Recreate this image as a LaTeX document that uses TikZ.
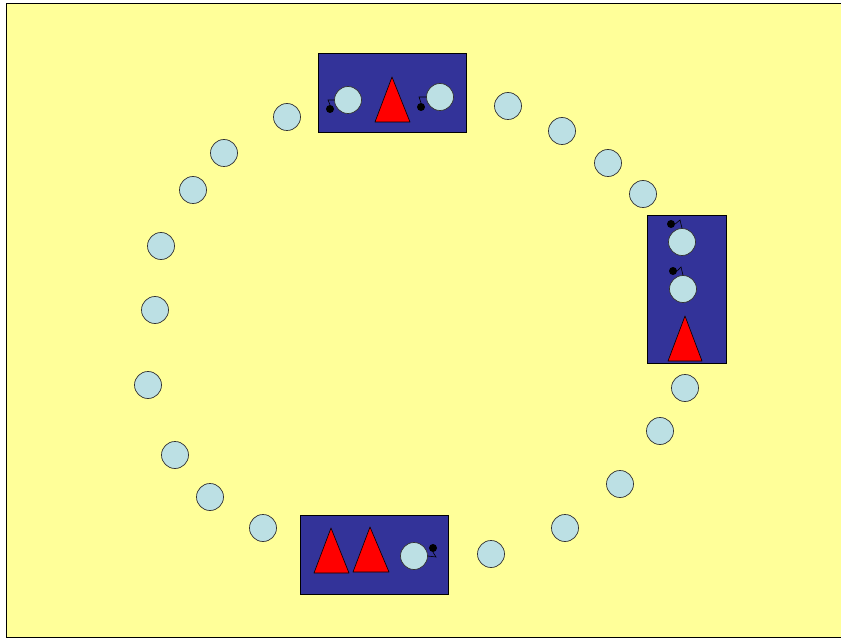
\documentclass[tikz,border=0pt]{standalone}
\begin{document}
\begin{tikzpicture}[x=1pt,y=-1pt,
  ball/.style={circle,draw=black!80,fill=ballc,minimum size=27pt,inner sep=0pt,line width=0.7pt},
  boxc/.style={draw=black,fill=boxblue,line width=0.6pt},
  tri/.style={draw=black,fill=red,line width=0.6pt,line join=round},
  dotc/.style={circle,fill=black,minimum size=8pt,inner sep=0pt},
  stem/.style={draw=black,line width=0.6pt}]
\definecolor{bg}{HTML}{FFFF99}
\definecolor{boxblue}{HTML}{333399}
\definecolor{ballc}{HTML}{BCE0E4}
\useasboundingbox (0,0) rectangle (841,639);
\fill[white] (0,0) rectangle (841,639);
\draw[fill=bg,line width=0.8pt] (850,3) -- (6,3) -- (6,637) -- (850,637);
% outer ring of balls
\foreach \x/\y [count=\i] in {287/117,224/153,193/190,161/246,155/310,148/385,175/455,210/497,263/528,
  508/106,562/131,608/163,643/194,685/388,660/431,620/484,565/528,491/554}
  \node[ball] (r\i) at (\x,\y) {};
% top box
\path[boxc] (318,53) rectangle (466,132);
\node[ball] (t1) at (348,100) {};
\node[ball] (t2) at (440,97) {};
\path[tri] (392,77) -- (410,122) -- (375,122) -- cycle;
\node[dotc] (td1) at (330,109) {};
\node[dotc] (td2) at (421,107) {};
\draw[stem] (td1.north) -- (328,100) -- (t1.west);
\draw[stem] (td2.north) -- (419,97) -- (t2.west);
% right box
\path[boxc] (647,215) rectangle (726,363);
\node[ball] (s1) at (682,242) {};
\node[ball] (s2) at (683,289) {};
\path[tri] (685,316) -- (702,361) -- (668,361) -- cycle;
\node[dotc] (sd1) at (671,224) {};
\node[dotc] (sd2) at (673,271) {};
\draw[stem] (sd1.east) -- (680,220) -- (s1.north);
\draw[stem] (sd2.east) -- (681,267) -- (s2.north);
% bottom box
\path[boxc] (300,515) rectangle (448,594);
\path[tri] (331,528) -- (349,573) -- (314,573) -- cycle;
\path[tri] (370,527) -- (389,572) -- (353,572) -- cycle;
\node[ball] (b1) at (414,556) {};
\node[dotc] (bd1) at (433,548) {};
\draw[stem] (bd1.south) -- (436,557) -- (b1.east);
\end{tikzpicture}
\end{document}
